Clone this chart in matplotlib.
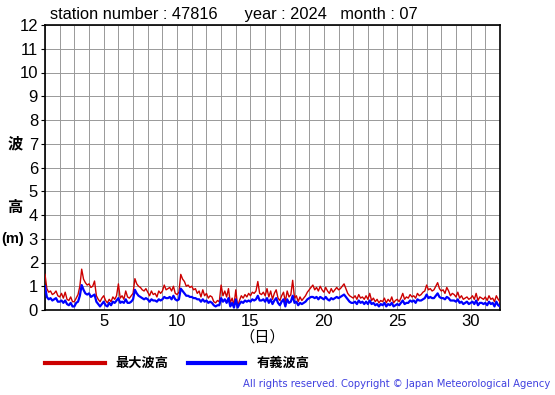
import numpy as np
import matplotlib
matplotlib.use("Agg")
import matplotlib.pyplot as plt

plt.rcParams['font.family'] = ['Liberation Sans', 'Noto Sans CJK JP', 'DejaVu Sans']

# 3-hourly readings per day (days 1..31), plus the final point at day 32
max_wave = [
    1.5, 0.9, 0.75, 0.8, 0.65, 0.7, 0.8, 0.6,
    0.55, 0.7, 0.5, 0.75, 0.45, 0.4, 0.55, 0.35,
    0.35, 0.5, 0.65, 1.0, 1.72, 1.3, 1.15, 1.05,
    1.1, 0.95, 1.0, 1.22, 0.6, 0.45, 0.35, 0.5,
    0.6, 0.4, 0.3, 0.45, 0.35, 0.55, 0.45, 0.6,
    1.1, 0.5, 0.6, 0.45, 0.8, 0.55, 0.5, 0.6,
    0.7, 1.32, 1.1, 1.0, 0.95, 0.85, 0.8, 0.9,
    0.75, 0.6, 0.8, 0.65, 0.7, 0.55, 0.8, 0.7,
    0.8, 1.05, 0.85, 0.9, 0.95, 0.8, 1.0, 0.7,
    0.65, 0.75, 1.5, 1.3, 1.2, 1.0, 1.05, 0.95,
    1.0, 0.85, 0.9, 0.7, 0.8, 0.55, 0.85, 0.6,
    0.7, 0.5, 0.6, 0.55, 0.35, 0.3, 0.4, 0.35,
    1.05, 0.6, 0.8, 0.55, 0.9, 0.3, 0.5, 0.2,
    0.85, 0.15, 0.4, 0.6, 0.5, 0.65, 0.55, 0.7,
    0.6, 0.75, 0.7, 0.8, 1.2, 0.7, 0.65, 0.75,
    0.6, 0.9, 0.55, 0.8, 0.45, 0.7, 0.85, 0.5,
    0.4, 0.6, 0.75, 0.35, 0.8, 0.55, 0.65, 1.25,
    0.5, 0.6, 0.35, 0.55, 0.4, 0.5, 0.6, 0.75,
    0.85, 0.95, 1.05, 0.85, 0.95, 0.8, 1.0, 0.85,
    0.75, 0.95, 0.8, 0.7, 0.9, 0.75, 0.85, 0.95,
    0.85, 0.9, 1.0, 1.1, 0.9, 0.7, 0.6, 0.55,
    0.5, 0.6, 0.45, 0.65, 0.5, 0.55, 0.45, 0.6,
    0.45, 0.7, 0.4, 0.5, 0.35, 0.45, 0.3, 0.4,
    0.35, 0.5, 0.3, 0.45, 0.35, 0.55, 0.3, 0.4,
    0.45, 0.35, 0.5, 0.7, 0.45, 0.55, 0.5, 0.65,
    0.55, 0.6, 0.5, 0.7, 0.6, 0.65, 0.75, 0.8,
    1.05, 0.85, 0.9, 0.8, 0.85, 1.0, 1.15, 0.9,
    0.8, 0.85, 0.7, 0.95, 0.8, 0.6, 0.7, 0.65,
    0.55, 0.75, 0.5, 0.6, 0.45, 0.5, 0.55, 0.45,
    0.5, 0.6, 0.45, 0.7, 0.4, 0.55, 0.5, 0.45,
    0.55, 0.4, 0.6, 0.45, 0.5, 0.35, 0.6, 0.45,
    0.35,
]
sig_wave = [
    1.0, 0.55, 0.45, 0.5, 0.4, 0.45, 0.5, 0.35,
    0.35, 0.4, 0.3, 0.4, 0.25, 0.2, 0.3, 0.15,
    0.15, 0.3, 0.35, 0.6, 1.05, 0.85, 0.7, 0.65,
    0.7, 0.55, 0.6, 0.65, 0.35, 0.25, 0.15, 0.25,
    0.35, 0.2, 0.15, 0.3, 0.2, 0.35, 0.3, 0.4,
    0.5, 0.3, 0.35, 0.3, 0.45, 0.3, 0.3, 0.35,
    0.45, 0.85, 0.7, 0.6, 0.55, 0.5, 0.45, 0.5,
    0.45, 0.35, 0.45, 0.4, 0.4, 0.35, 0.45, 0.4,
    0.45, 0.55, 0.5, 0.5, 0.55, 0.45, 0.6, 0.45,
    0.4, 0.45, 0.9, 0.8, 0.7, 0.6, 0.6, 0.55,
    0.55, 0.5, 0.5, 0.45, 0.45, 0.35, 0.45, 0.35,
    0.4, 0.3, 0.35, 0.3, 0.2, 0.15, 0.2, 0.2,
    0.5, 0.35, 0.45, 0.3, 0.5, 0.15, 0.3, 0.1,
    0.45, 0.1, 0.25, 0.35, 0.3, 0.4, 0.35, 0.4,
    0.35, 0.45, 0.4, 0.45, 0.6, 0.4, 0.4, 0.45,
    0.35, 0.5, 0.3, 0.45, 0.25, 0.4, 0.5, 0.3,
    0.2, 0.35, 0.45, 0.15, 0.45, 0.3, 0.35, 0.6,
    0.3, 0.35, 0.2, 0.3, 0.25, 0.3, 0.35, 0.45,
    0.5, 0.55, 0.55, 0.5, 0.55, 0.45, 0.55, 0.5,
    0.45, 0.55, 0.45, 0.4, 0.5, 0.45, 0.5, 0.55,
    0.5, 0.55, 0.6, 0.65, 0.55, 0.45, 0.35, 0.3,
    0.3, 0.35, 0.25, 0.4, 0.3, 0.35, 0.25, 0.35,
    0.25, 0.4, 0.25, 0.3, 0.2, 0.25, 0.15, 0.25,
    0.2, 0.3, 0.15, 0.25, 0.2, 0.3, 0.15, 0.2,
    0.25, 0.2, 0.3, 0.4, 0.25, 0.3, 0.3, 0.4,
    0.35, 0.4, 0.3, 0.45, 0.4, 0.4, 0.45, 0.5,
    0.65, 0.5, 0.55, 0.5, 0.5, 0.6, 0.7, 0.55,
    0.5, 0.5, 0.45, 0.55, 0.5, 0.4, 0.4, 0.4,
    0.35, 0.45, 0.3, 0.35, 0.25, 0.3, 0.35, 0.25,
    0.3, 0.35, 0.25, 0.4, 0.2, 0.3, 0.3, 0.25,
    0.3, 0.2, 0.35, 0.25, 0.3, 0.15, 0.35, 0.2,
    0.15,
]
x_ticks = [5, 10, 15, 20, 25, 30]
y_ticks = list(range(0, 13))
title_text = "station number : 47816      year : 2024   month : 07"
legend_labels = ["最大波高", "有義波高"]

days = 1 + np.arange(len(max_wave)) / 8.0

fig = plt.figure(figsize=(5.55, 3.95), dpi=100)
ax = fig.add_axes([45/555, 85/395, 455/555, 285/395])

ax.plot(days, max_wave, color='#cc0000', lw=1.0, zorder=3)
ax.plot(days, sig_wave, color='#0000ff', lw=1.6, zorder=4)

ax.set_xlim(1, 32)
ax.set_ylim(0, 12)
ax.set_xticks(x_ticks)
ax.set_xticks(np.arange(1, 33), minor=True)
ax.set_yticks(y_ticks)
ax.grid(True, which='both', color='#999999', lw=0.7, zorder=0)
ax.tick_params(axis='both', which='both', length=0, labelsize=12, pad=3)
ax.tick_params(axis='y', length=3, direction='out', color='black', width=0.8, pad=2)
for s in ax.spines.values():
    s.set_linewidth(1.2)
    s.set_color('black')

fig.text(50/555, 1 - 15/395, title_text, fontsize=11.8, va='center', ha='left')

jp = ['Noto Sans CJK JP', 'DejaVu Sans']
fig.text(15/555, 1 - 143/395, "波", fontsize=11, family=jp, ha='center', va='center', weight='bold')
fig.text(15/555, 1 - 207/395, "高", fontsize=11, family=jp, ha='center', va='center', weight='bold')
fig.text(1/555, 1 - 239/395, "(m)", fontsize=10.5, family=['Liberation Sans'], ha='left', va='center', weight='bold')
fig.text(262/555, 1 - 337/395, "（日）", fontsize=11, family=jp, ha='center', va='center')

# legend
fig.lines.append(plt.Line2D([45/555, 105/555], [1 - 363/395]*2, transform=fig.transFigure, color='#cc0000', lw=3))
fig.text(115/555, 1 - 363/395, legend_labels[0], fontsize=9.5, family=jp, weight='bold', va='center')
fig.lines.append(plt.Line2D([188/555, 245/555], [1 - 363/395]*2, transform=fig.transFigure, color='#0000ff', lw=3))
fig.text(257/555, 1 - 363/395, legend_labels[1], fontsize=9.5, family=jp, weight='bold', va='center')

fig.text(550/555, 1 - 384/395, "All rights reserved. Copyright © Japan Meteorological Agency",
         fontsize=7.2, color='#4040e0', ha='right', va='center', family=['DejaVu Sans'])

fig.savefig("out.png", dpi=100)
